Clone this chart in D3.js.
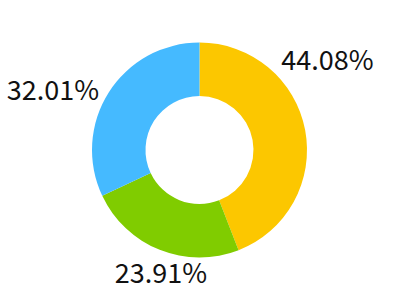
<!DOCTYPE html>
<html>
<head>
<meta charset="utf-8">
<script src="https://cdn.jsdelivr.net/npm/d3@7/dist/d3.min.js"></script>
<style>
  body { margin: 0; background: #fff; }
  .label { font-family: "Noto Sans CJK SC", "Noto Sans", sans-serif; font-size: 27px; fill: #111; }
</style>
</head>
<body>
<div id="chart"></div>
<script>
// data
var categories = ["A", "B", "C"];
var values = [44.08, 23.91, 32.01];
var labels = ["44.08%", "23.91%", "32.01%"];
var colors = ["#fcc700", "#80cc00", "#45baff"];

var svgWidth = 400;
var svgHeight = 300;
var cx = 199.5, cy = 150;
var outerR = 107.5, innerR = 54;

// label layout (angle shift from slice middle in degrees, distance from centre)
var labelShift = [-24.3, -4.5, -10.5];
var labelDist = [156, 130, 158];

var svg = d3.select("#chart")
    .append("svg")
    .attr("width", svgWidth)
    .attr("height", svgHeight);

var g = svg.append("g")
    .attr("transform", `translate(${cx}, ${cy})`);

var pie = d3.pie().sort(null).value(d => d);
var arcs = pie(values);

var arc = d3.arc()
    .innerRadius(innerR)
    .outerRadius(outerR);

g.selectAll("path")
    .data(arcs)
    .enter()
    .append("path")
    .attr("d", arc)
    .attr("fill", (d, i) => colors[i]);

g.selectAll("text")
    .data(arcs)
    .enter()
    .append("text")
    .attr("class", "label")
    .attr("text-anchor", "middle")
    .attr("dy", "0.33em")
    .attr("x", (d, i) => {
        var a = (d.startAngle + d.endAngle) / 2 + labelShift[i] * Math.PI / 180;
        return Math.sin(a) * labelDist[i];
    })
    .attr("y", (d, i) => {
        var a = (d.startAngle + d.endAngle) / 2 + labelShift[i] * Math.PI / 180;
        return -Math.cos(a) * labelDist[i];
    })
    .text((d, i) => labels[i]);
</script>
</body>
</html>
